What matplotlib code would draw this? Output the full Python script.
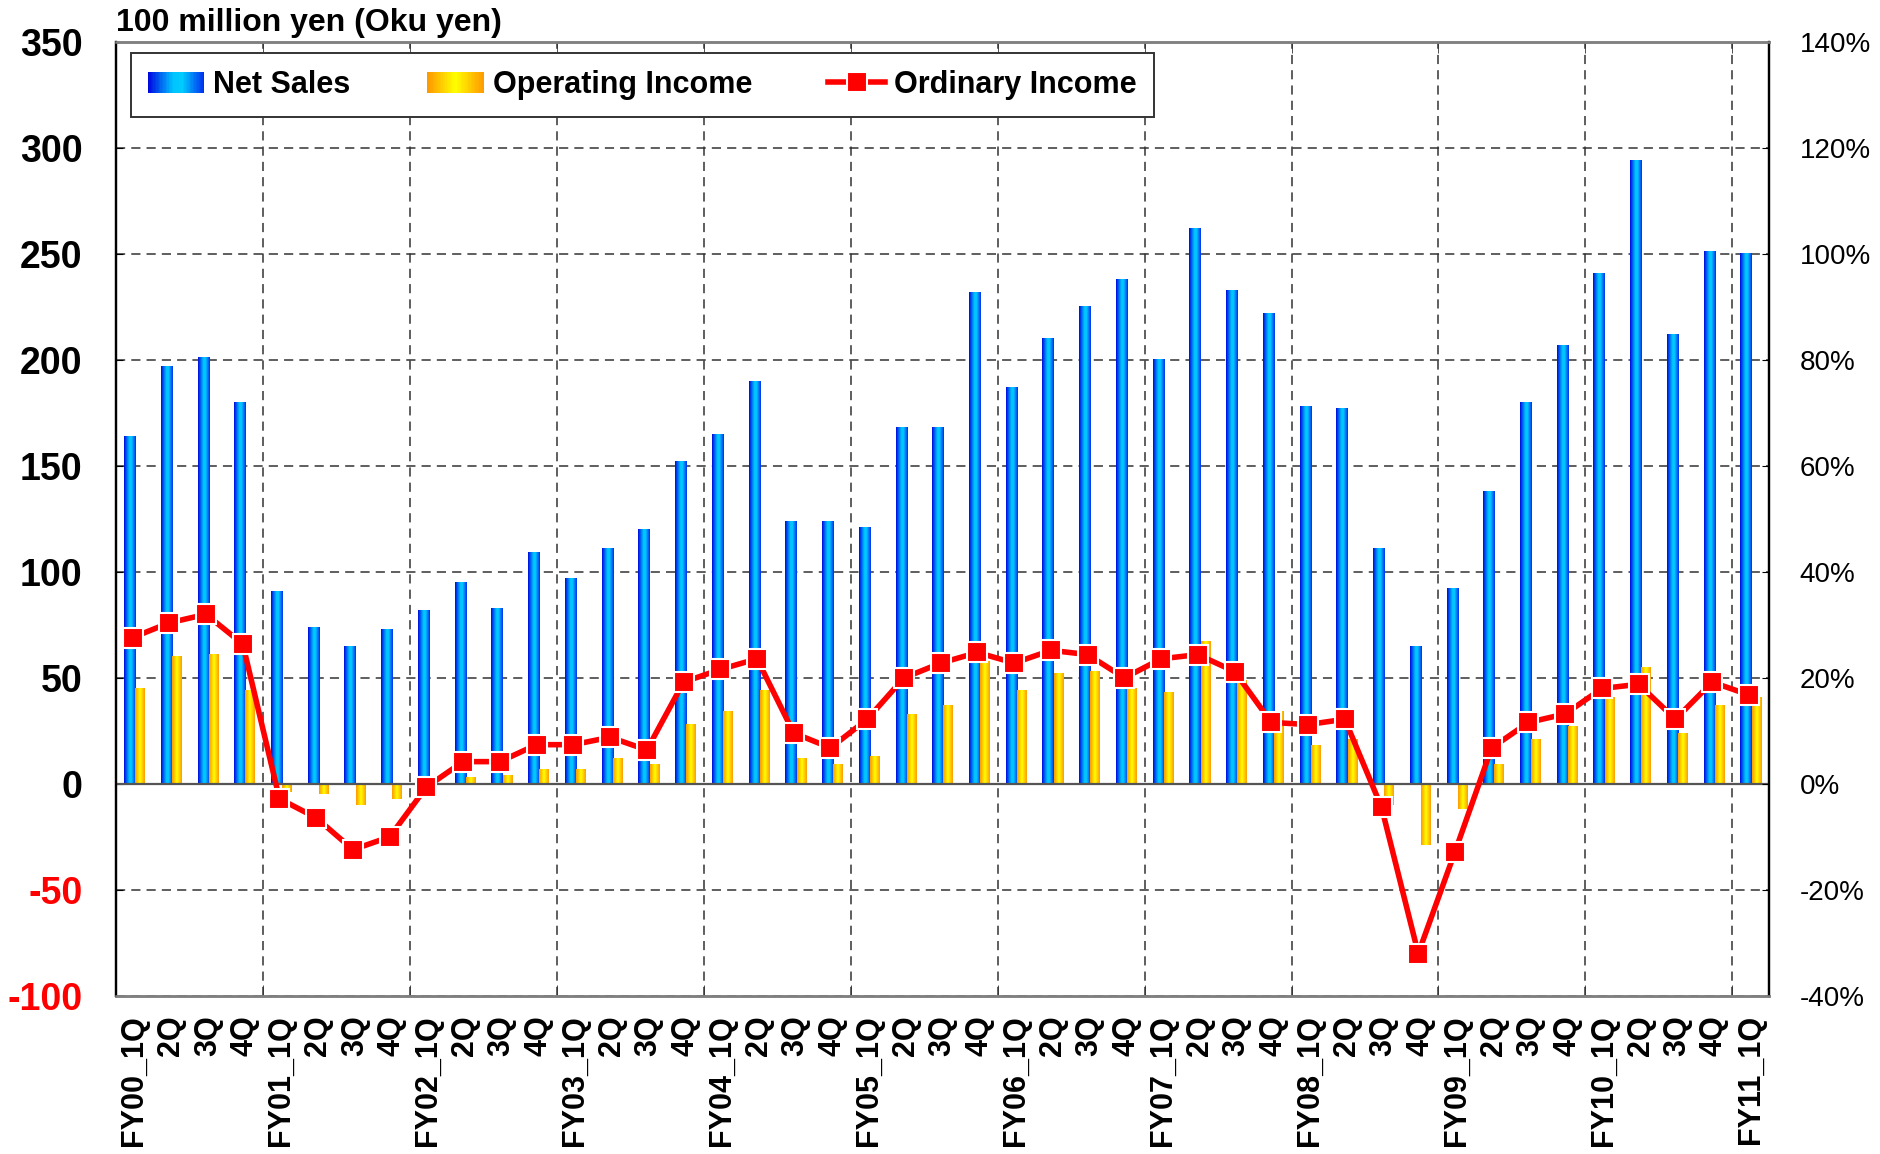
import numpy as np
import matplotlib
matplotlib.use('Agg')
import matplotlib.pyplot as plt
from matplotlib.colors import LinearSegmentedColormap
from matplotlib.patches import Patch, Rectangle
from matplotlib.lines import Line2D
from matplotlib.legend_handler import HandlerBase
from matplotlib.ticker import FuncFormatter

# quarterly results, 100 million yen
fiscal_years = ['FY00', 'FY01', 'FY02', 'FY03', 'FY04', 'FY05',
                'FY06', 'FY07', 'FY08', 'FY09', 'FY10', 'FY11']
quarters = ['1Q', '2Q', '3Q', '4Q']

net_sales = [164, 197, 201, 180, 91, 74, 65, 73, 82, 95, 83, 109,
             97, 111, 120, 152, 165, 190, 124, 124, 121, 168, 168, 232,
             187, 210, 225, 238, 200, 262, 233, 222, 178, 177, 111, 65,
             92, 138, 180, 207, 241, 294, 212, 251, 250]
operating_income = [45, 60, 61, 44, -4, -5, -10, -7, 0, 3, 4, 7,
                    7, 12, 9, 28, 34, 44, 12, 9, 13, 33, 37, 58,
                    44, 52, 53, 45, 43, 67, 49, 34, 18, 21, -10, -29,
                    -12, 9, 21, 27, 41, 55, 24, 37, 41]
ordinary_income = [69, 76, 80, 66, -7, -16, -31, -25, -1.5, 10.5, 10.5, 18.5,
                   18.5, 22, 16, 48, 54, 59, 24, 17, 30.5, 50, 57, 62,
                   57, 63, 61, 50, 59, 61, 53, 29, 28, 30.5, -11, -80,
                   -32, 17, 29, 33, 45, 47, 30.5, 48, 42]

labels = []
for fy in fiscal_years:
    for q in quarters:
        labels.append(fy + '_' + q if q == '1Q' else q)
labels = labels[:len(net_sales)]

left_ticks = [-100, -50, 0, 50, 100, 150, 200, 250, 300, 350]
right_ticks = [-40, -20, 0, 20, 40, 60, 80, 100, 120, 140]

blue_cmap = LinearSegmentedColormap.from_list(
    'sales', [(0, '#0008e0'), (0.45, '#00c4ff'), (0.62, '#00ccff'), (1, '#0030f0')])
yellow_cmap = LinearSegmentedColormap.from_list(
    'opinc', [(0, '#ff9800'), (0.5, '#ffff00'), (1, '#ff9c00')])

plt.rcParams['font.family'] = ['Liberation Sans', 'DejaVu Sans']
plt.rcParams['axes.unicode_minus'] = False


class GradientHandler(HandlerBase):
    def __init__(self, cmap, steps=40):
        super().__init__()
        self.cmap = cmap
        self.steps = steps

    def create_artists(self, legend, orig_handle, xdescent, ydescent,
                       width, height, fontsize, trans):
        sw = width / self.steps
        out = []
        for k in range(self.steps):
            out.append(Rectangle((-xdescent + k * sw, -ydescent), sw * 1.05, height,
                                 facecolor=self.cmap(k / (self.steps - 1)),
                                 edgecolor='none', transform=trans))
        return out


fig = plt.figure(figsize=(18.8, 11.54), dpi=100)
ax = fig.add_axes([0.0617, 0.137, 0.8793, 0.8267])

grad = np.linspace(0, 1, 64).reshape(1, -1)
bw_sales, bw_op = 0.32, 0.27
x = np.arange(len(net_sales))
for i, v in enumerate(net_sales):
    c = i - 0.12
    ax.imshow(grad, cmap=blue_cmap, aspect='auto', interpolation='bilinear',
              extent=(c - bw_sales / 2, c + bw_sales / 2, min(0, v), max(0, v)), zorder=2)
for i, v in enumerate(operating_income):
    if v == 0:
        continue
    c = i + 0.16
    ax.imshow(grad, cmap=yellow_cmap, aspect='auto', interpolation='bilinear',
              extent=(c - bw_op / 2, c + bw_op / 2, min(0, v), max(0, v)), zorder=2.5)

ax.axhline(0, color='#555555', lw=1.6, zorder=3)
ax.plot(x - 0.05, ordinary_income, color='#ff0000', lw=4, marker='s', ms=14,
        mfc='#ff0000', mec='white', mew=1.5, zorder=5, clip_on=False)

ax.set_xlim(-0.5, len(net_sales) - 0.5)
ax.set_ylim(-100, 350)

# axes / grid
ax.set_axisbelow(True)
ax.set_yticks(left_ticks)
ax.yaxis.grid(True, ls=(0, (6, 4)), color='#333333', lw=1.1)
ax.set_xticks(x)
ax.set_xticklabels(labels, rotation=90, fontsize=22, fontweight='bold')
ax.set_xticks(np.arange(3.5, len(net_sales) - 1, 4), minor=True)
ax.xaxis.grid(True, which='minor', ls=(0, (6, 4)), color='#333333', lw=1.1)
ax.xaxis.grid(False, which='major')
ax.tick_params(axis='x', which='major', length=0, pad=14)
ax.tick_params(axis='x', which='minor', direction='in', length=8, top=True, color='#333333')
ax.tick_params(axis='y', direction='in', length=5, pad=24)
for t, lab in zip(left_ticks, ax.get_yticklabels()):
    lab.set_fontsize(27)
    lab.set_fontweight('bold')
    lab.set_color('#ff0000' if t < 0 else 'black')

ax2 = ax.twinx()
ax2.set_ylim(-40, 140)
ax2.set_yticks(right_ticks)
ax2.yaxis.set_major_formatter(FuncFormatter(lambda v, p: f'{v:.0f}%'))
ax2.tick_params(axis='y', direction='in', length=5, pad=22, labelsize=20)

for a in (ax, ax2):
    a.spines['left'].set_color('black')
    a.spines['right'].set_color('black')
    a.spines['left'].set_linewidth(1.6)
    a.spines['right'].set_linewidth(1.6)
    a.spines['top'].set_color('#808080')
    a.spines['bottom'].set_color('#808080')
    a.spines['top'].set_linewidth(1.8)
    a.spines['bottom'].set_linewidth(1.8)

fig.text(116 / 1880, 1 - 31 / 1154, '100 million yen (Oku yen)', fontsize=23,
         fontweight='bold', ha='left', va='baseline')

sales_handle = Patch(label='Net Sales')
op_handle = Patch(label='Operating Income')
ord_handle = Line2D([], [], color='#ff0000', lw=4, marker='s', ms=14,
                    mfc='#ff0000', mec='white', mew=1.5, label='Ordinary Income')
leg = ax.legend(handles=[sales_handle, op_handle, ord_handle], ncol=3,
                loc='upper left', bbox_to_anchor=(0.009, 0.988),
                handler_map={sales_handle: GradientHandler(blue_cmap),
                             op_handle: GradientHandler(yellow_cmap)},
                prop={'size': 22, 'weight': 'bold'}, handlelength=1.85,
                handletextpad=0.3, columnspacing=2.5, fancybox=False,
                framealpha=1, edgecolor='#333333', borderpad=0.55,
                borderaxespad=0)
leg.get_frame().set_linewidth(1.4)
leg.set_zorder(10)

fig.savefig('out.png', dpi=100)
